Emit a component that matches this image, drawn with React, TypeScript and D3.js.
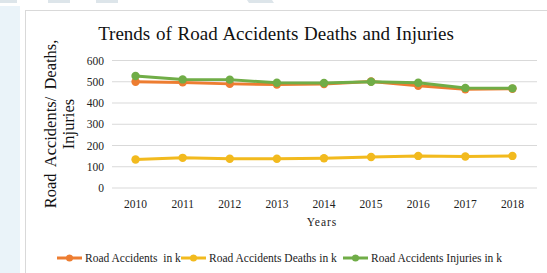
import React from "react"
import * as d3 from "d3"

// chart data (values in thousands)
const years = ["2010", "2011", "2012", "2013", "2014", "2015", "2016", "2017", "2018"]
const accidents = [500, 497, 490, 487, 489, 501, 481, 465, 467]
const deaths = [134, 142, 138, 138, 140, 146, 151, 148, 151]
const injuries = [527, 511, 510, 495, 494, 500, 495, 471, 469]
const yTicks = [0, 100, 200, 300, 400, 500, 600]

const seriesNames = ["Road Accidents  in k", "Road Accidents Deaths in k", "Road Accidents Injuries in k"]
const seriesColors = ["#ED7D31", "#F2BA1E", "#70AD47"]

const W = 547
const H = 273
const serif = "Liberation Serif"

const App = () => {
	const x = d3.scalePoint<string>().domain(years).range([112, 536]).padding(0.5)
	const y = d3.scaleLinear().domain([0, 600]).range([188, 60.5])

	const line = d3
		.line<number>()
		.x((_, i) => x(years[i]) as number)
		.y(d => y(d))

	const series = [accidents, deaths, injuries]

	// legend placement (line sample start)
	const legendX = [57, 181, 343]

	const txt = { fontFamily: serif, whiteSpace: "pre" as const }

	return (
		<svg
			width={W}
			height={H}
			style={{ position: "absolute", left: 0, top: 0, background: "#fff" }}
		>
			{/* page background bits around the figure */}
			<rect x={0} y={6} width={20} height={H - 6} fill="#eaf3f9" />
			{[0, 48, 96].map(bx => (
				<rect key={bx} x={bx} y={0} width={bx === 0 ? 17 : 22} height={3} fill="#dde5ea" />
			))}
			<polygon points="247,0 272,0 274,3 249,3" fill="#dde5ea" />

			{/* figure frame */}
			<rect x={25.5} y={10.5} width={W} height={H} fill="#fff" stroke="#d9d9d9" />

			{/* title */}
			<text x={276} y={40} textAnchor="middle" fontSize={19} fill="#111" style={{ ...txt, wordSpacing: "1px" }}>
				Trends of Road Accidents Deaths and Injuries
			</text>

			{/* grid + y ticks */}
			{yTicks.map(t => (
				<g key={t}>
					<line x1={112} x2={537} y1={y(t)} y2={y(t)} stroke="#d9d9d9" strokeWidth={1} />
					<text x={104} y={y(t)} dy="0.35em" textAnchor="end" fontSize={11.5} fill="#222" style={txt}>
						{t}
					</text>
				</g>
			))}

			{/* x labels */}
			{years.map(yr => (
				<text key={yr} x={x(yr)} y={208} textAnchor="middle" fontSize={11.5} fill="#222" style={txt}>
					{yr}
				</text>
			))}
			<text x={322} y={226} textAnchor="middle" fontSize={11.5} fill="#222" style={{ ...txt, letterSpacing: "1px" }}>
				Years
			</text>

			{/* y axis title */}
			<g transform="translate(56,124) rotate(-90)">
				<text textAnchor="middle" fontSize={16.5} fill="#111" style={{ ...txt, wordSpacing: "3px" }}>
					Road Accidents/ Deaths,
				</text>
				<text y={18} textAnchor="middle" fontSize={16.5} fill="#111" style={txt}>
					Injuries
				</text>
			</g>

			{/* series */}
			{series.map((s, si) => (
				<g key={si}>
					<path d={line(s) as string} fill="none" stroke={seriesColors[si]} strokeWidth={3} strokeLinejoin="round" />
					{s.map((v, i) => (
						<circle key={i} cx={x(years[i])} cy={y(v)} r={4.2} fill={seriesColors[si]} />
					))}
				</g>
			))}

			{/* legend */}
			{seriesNames.map((name, i) => (
				<g key={name} transform={`translate(${legendX[i]},258)`}>
					<line x1={0} x2={25} y1={0} y2={0} stroke={seriesColors[i]} strokeWidth={3} />
					<circle cx={12.5} cy={0} r={3.5} fill={seriesColors[i]} />
					<text x={28} y={0} dy="0.35em" fontSize={11.5} fill="#222" style={txt}>
						{name}
					</text>
				</g>
			))}
		</svg>
	)
}

export default App
